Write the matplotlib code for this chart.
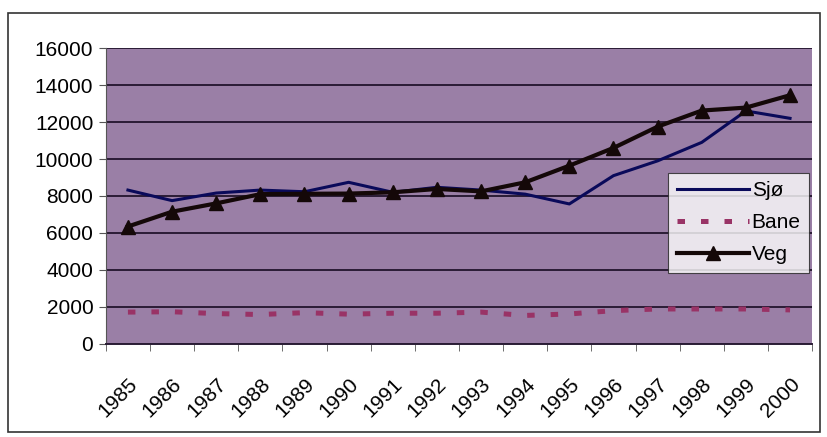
import matplotlib
matplotlib.use("Agg")
import matplotlib.pyplot as plt
from matplotlib.patches import Rectangle

plt.rcParams['font.family'] = ['Liberation Sans', 'DejaVu Sans']

# Data
years = ['1985', '1986', '1987', '1988', '1989', '1990', '1991', '1992',
         '1993', '1994', '1995', '1996', '1997', '1998', '1999', '2000']
sjo = [8320, 7750, 8160, 8320, 8230, 8740, 8200, 8470,
       8320, 8100, 7570, 9100, 9900, 10900, 12600, 12200]
bane = [1720, 1740, 1640, 1590, 1690, 1610, 1660, 1660,
        1720, 1540, 1620, 1800, 1890, 1890, 1890, 1840]
veg = [6350, 7150, 7600, 8100, 8120, 8130, 8200, 8380,
       8250, 8740, 9640, 10600, 11750, 12620, 12780, 13450]

x = list(range(len(years)))

fig = plt.figure(figsize=(8.27, 4.37), dpi=100)
ax = fig.add_axes([0.128, 0.213, 0.854, 0.677])
ax.set_facecolor('#9A7FA6')

# chart border round the whole figure
fig.patches.append(Rectangle((0.010, 0.012), 0.982, 0.958, transform=fig.transFigure,
                             fill=False, edgecolor='#333333', linewidth=1.2))

ax.plot(x, sjo, color='#0A0A5A', linewidth=2.2, label='Sjø', zorder=3)
ax.plot(x, bane, color='#993366', linewidth=3.6, linestyle=(0, (1.5, 3.2)),
        dash_capstyle='butt', label='Bane', zorder=3)
ax.plot(x, veg, color='#140808', linewidth=3.0, marker='^', markersize=10,
        label='Veg', zorder=4)

ax.set_xlim(-0.5, len(years) - 0.5)
ax.set_ylim(0, 16000)
ax.set_yticks(range(0, 16001, 2000))
ax.grid(axis='y', color='#2A1C35', linewidth=1.4)
ax.set_axisbelow(True)

ax.set_xticks(x)
ax.set_xticklabels(years, rotation=45, ha='right', rotation_mode='anchor')
ax.set_xticks([i - 0.5 for i in range(len(years) + 1)], minor=True)
ax.tick_params(axis='x', which='major', length=0, pad=22, labelsize=15)
ax.tick_params(axis='x', which='minor', length=5, color='#555555')
ax.tick_params(axis='y', length=5, color='#555555', labelsize=15, pad=4)

for side in ['top', 'right']:
    ax.spines[side].set_visible(False)
ax.spines['left'].set_color('#555555')
ax.spines['bottom'].set_color('#2A1C35')
ax.spines['bottom'].set_linewidth(1.4)

leg = fig.legend(loc='upper left', bbox_to_anchor=(0.808, 0.604),
                 frameon=True, fancybox=False, fontsize=15, handlelength=3.5,
                 handletextpad=0.1, borderpad=0.4, labelspacing=0.62,
                 borderaxespad=0)
leg.get_frame().set_edgecolor('#222222')
leg.get_frame().set_linewidth(0.8)

fig.savefig('out.png', dpi=100)
